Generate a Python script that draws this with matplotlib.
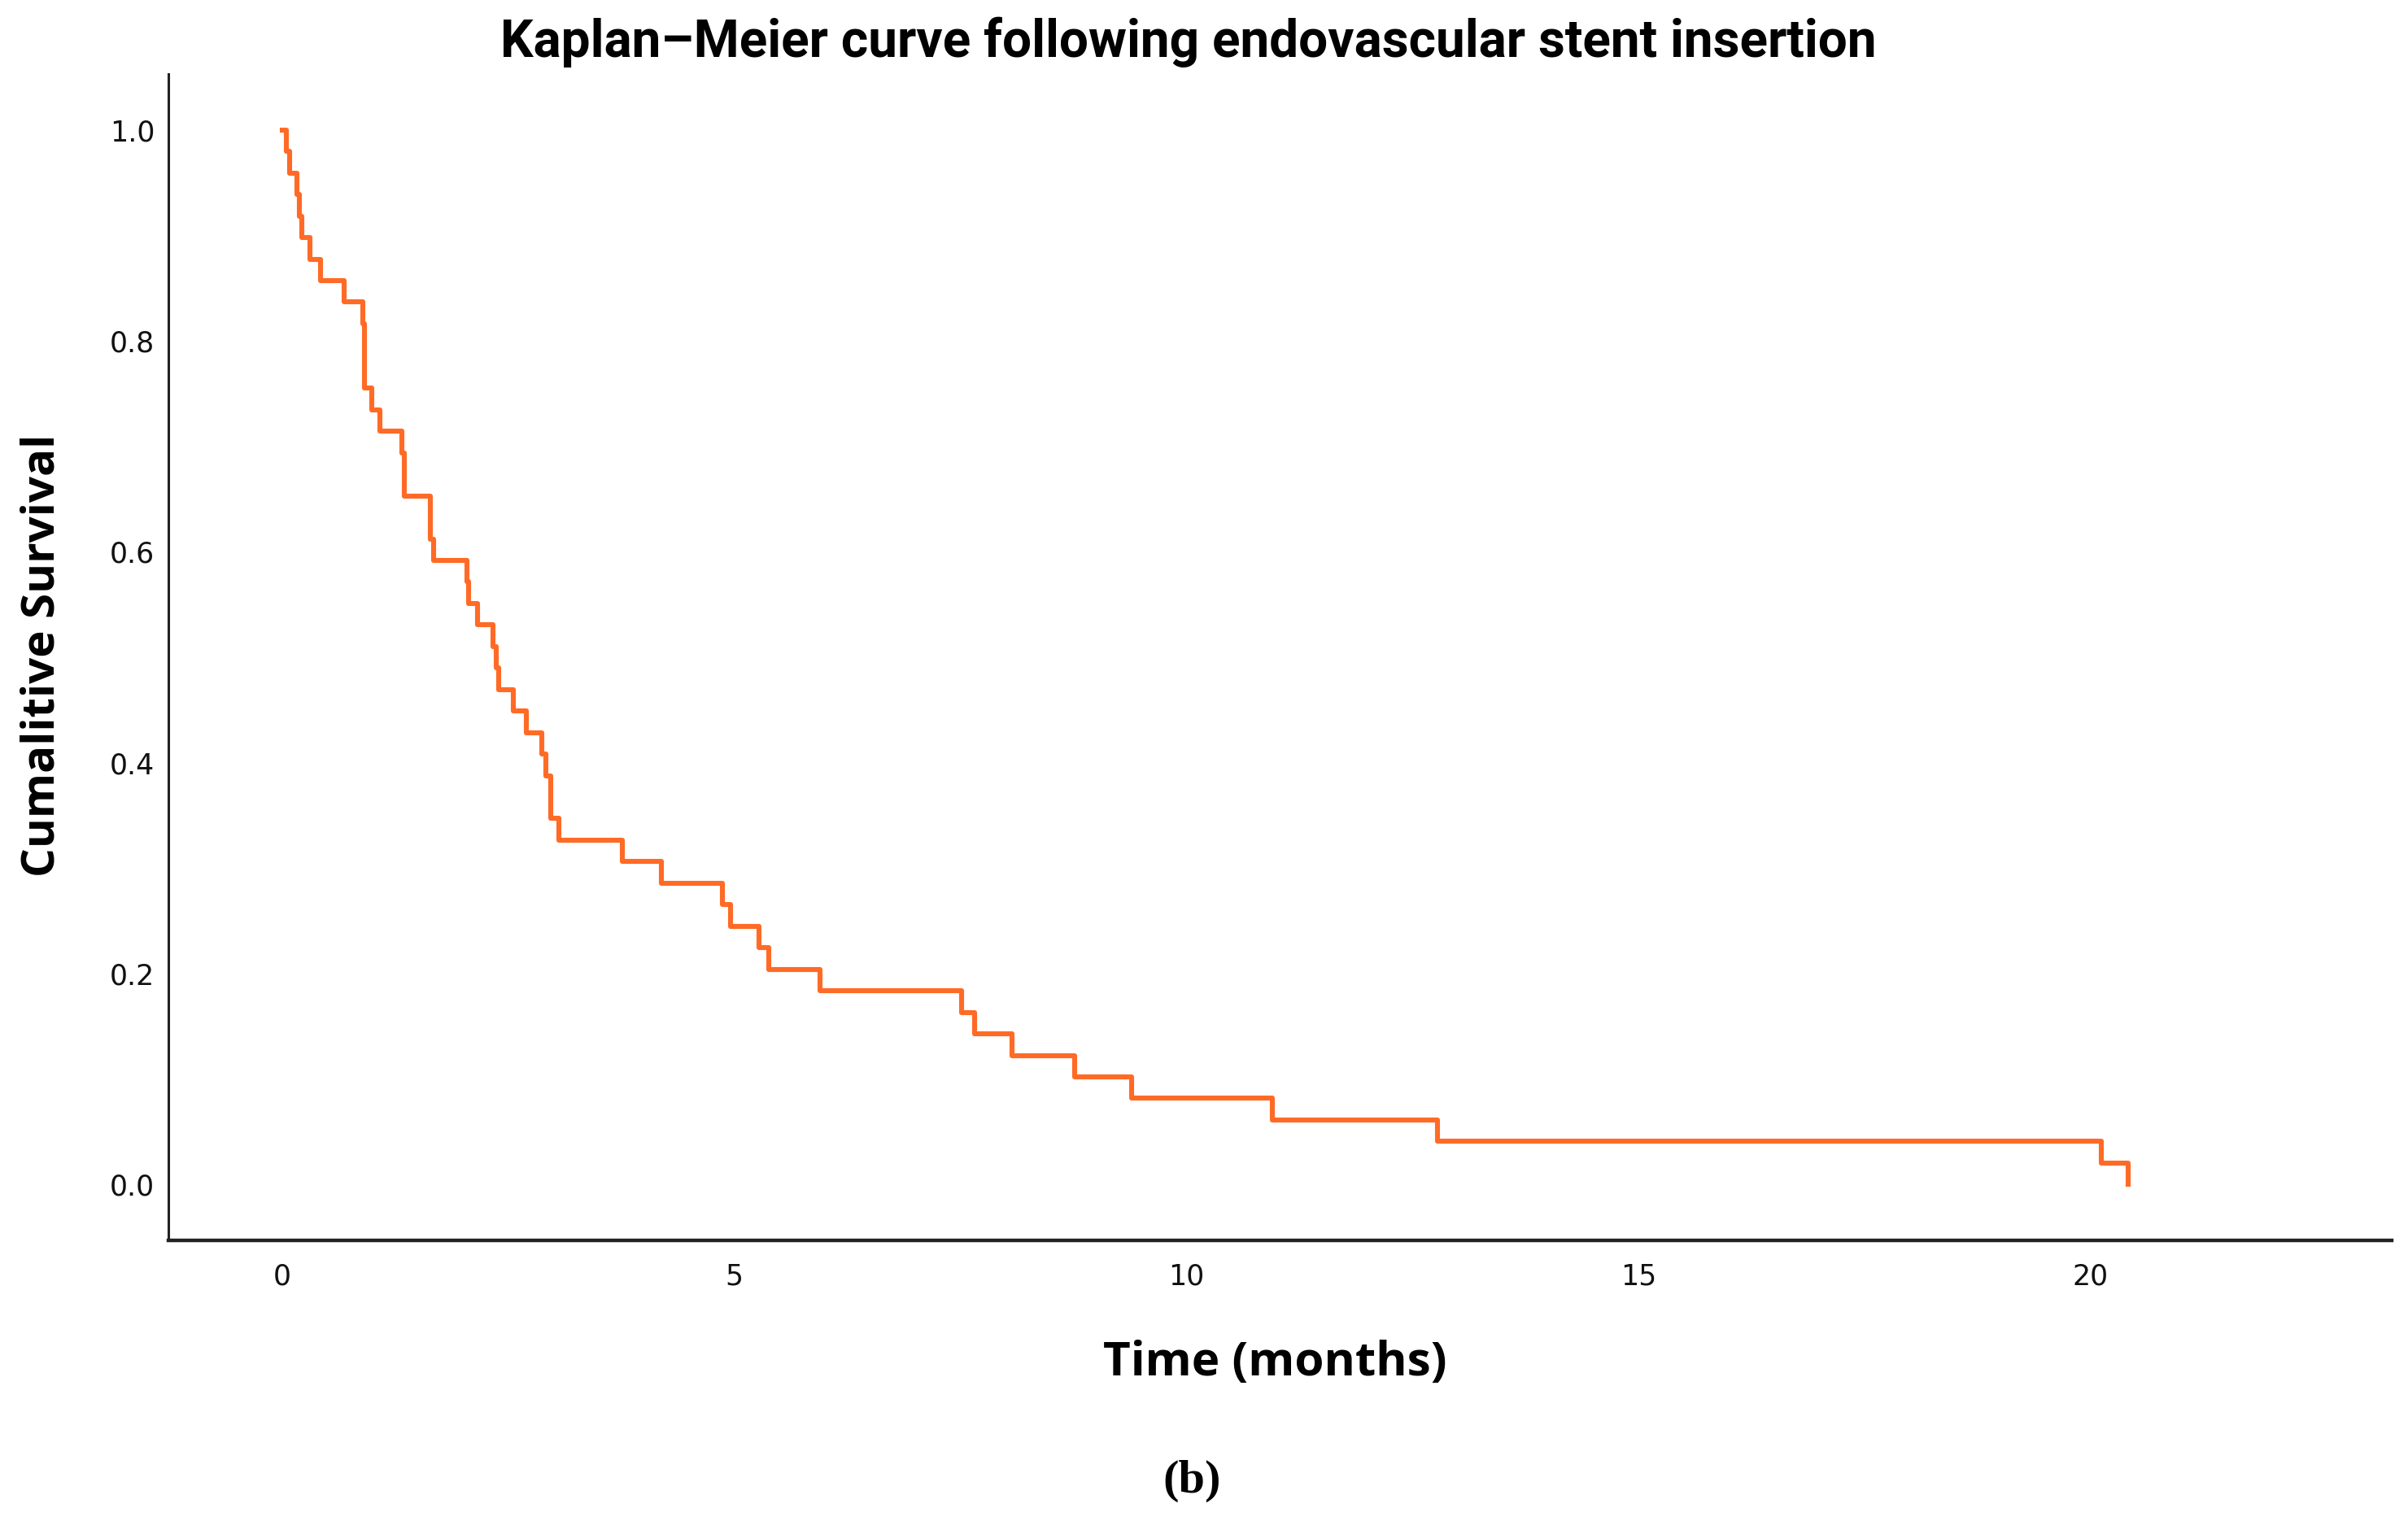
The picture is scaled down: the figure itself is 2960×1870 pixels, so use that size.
import numpy as np
import matplotlib
matplotlib.use("Agg")
import matplotlib.pyplot as plt

# Datos (sin censuras, n = 49)
N_PACIENTES = 49
tiempos = [0.05, 0.08, 0.16, 0.19, 0.22, 0.31, 0.42, 0.68, 0.89, 0.91,
           0.99, 1.08, 1.32, 1.35, 1.64, 1.67, 2.04, 2.06, 2.16, 2.33,
           2.37, 2.39, 2.56, 2.70, 2.87, 2.92, 2.97, 3.06, 3.76, 4.19,
           4.87, 4.96, 5.27, 5.38, 5.95, 7.51, 7.66, 8.07, 8.76, 9.39,
           10.95, 12.78, 20.12, 20.42]
muertes = [1, 1, 1, 1, 1, 1, 1, 1, 1, 3,
           1, 1, 1, 2, 2, 1, 1, 1, 1, 1,
           1, 1, 1, 1, 1, 1, 2, 1, 1, 1,
           1, 1, 1, 1, 1, 1, 1, 1, 1, 1,
           1, 1, 1, 1]
x_ticks = [0, 5, 10, 15, 20]
y_ticks = [0.0, 0.2, 0.4, 0.6, 0.8, 1.0]

# Kaplan-Meier (sin censuras)
t = np.array(tiempos)
d = np.array(muertes)
en_riesgo = N_PACIENTES - np.concatenate([[0], np.cumsum(d)[:-1]])
surv = np.cumprod(1 - d / en_riesgo)
t_plot = np.concatenate([[0], t])
s_plot = np.concatenate([[1.0], surv])

COLOR = "#FF6B26"

fig = plt.figure(figsize=(14.8, 9.35), dpi=200)
ax = fig.add_axes([0.0699, 0.1845, 0.9233, 0.7668])

ax.step(t_plot, s_plot, where="post", color=COLOR, linewidth=2.2)

ax.set_xlim(-1.26, 23.33)
ax.set_ylim(-0.053, 1.053)
ax.set_xticks(x_ticks)
ax.set_xticklabels([str(v) for v in x_ticks])
ax.set_yticks(y_ticks)
ax.set_yticklabels([f"{v:.1f}" for v in y_ticks])
ax.tick_params(axis="both", length=0, labelsize=12.5, colors="#111111")
ax.tick_params(axis="x", pad=10)
ax.tick_params(axis="y", pad=6)

ax.spines[["top", "right"]].set_visible(False)
ax.spines["left"].set_linewidth(1.1)
ax.spines["bottom"].set_linewidth(1.6)
ax.spines["left"].set_color("#222222")
ax.spines["bottom"].set_color("#222222")

fig.text(0.4935, 0.9626, "Kaplan\u2013Meier curve following endovascular stent insertion",
         ha="center", va="baseline", fontsize=23, fontweight="bold",
         family=["Roboto", "DejaVu Sans"])
fig.text(0.5294, 0.104, "Time (months)", ha="center", va="center",
         fontsize=21, fontweight="bold", family=["Open Sans", "DejaVu Sans"])
fig.text(0.0176, 0.569, "Cumalitive Survival", ha="center", va="center",
         rotation=90, fontsize=20.3, fontweight="bold", family=["Open Sans", "DejaVu Sans"])
fig.text(0.495, 0.026, "(b)", ha="center", va="center",
         fontsize=21, fontweight="bold", family=["Liberation Serif", "DejaVu Serif"])

plt.savefig("out.png", dpi=200)
